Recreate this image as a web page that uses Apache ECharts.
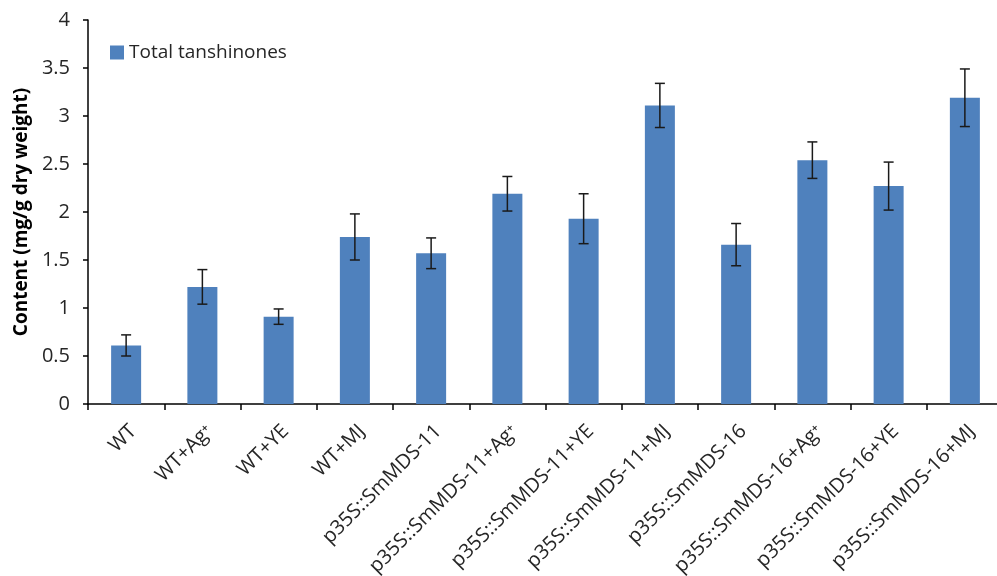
<!DOCTYPE html>
<html>
<head>
<meta charset="utf-8">
<script src="https://cdn.jsdelivr.net/npm/echarts@6/dist/echarts.min.js"></script>
<style>
  html, body { margin: 0; padding: 0; background: #fff; }
  #chart { width: 997px; height: 576px; }
</style>
</head>
<body>
<div id="chart"></div>
<script>
// Sample groups on the x axis
var categories = [
  'WT', 'WT+Ag\u207A', 'WT+YE', 'WT+MJ',
  'p35S::SmMDS-11', 'p35S::SmMDS-11+Ag\u207A', 'p35S::SmMDS-11+YE', 'p35S::SmMDS-11+MJ',
  'p35S::SmMDS-16', 'p35S::SmMDS-16+Ag\u207A', 'p35S::SmMDS-16+YE', 'p35S::SmMDS-16+MJ'
];
// Mean total tanshinone content (mg/g dry weight)
var totalTanshinones = [0.61, 1.22, 0.91, 1.74, 1.57, 2.19, 1.93, 3.11, 1.66, 2.54, 2.27, 3.19];
// Standard deviation for each group
var errors = [0.11, 0.18, 0.08, 0.24, 0.16, 0.18, 0.26, 0.23, 0.22, 0.19, 0.25, 0.30];

var errorData = categories.map(function (c, i) {
  return [i, totalTanshinones[i] - errors[i], totalTanshinones[i] + errors[i]];
});

var chart = echarts.init(document.getElementById('chart'));
var font = '"Open Sans", "Noto Sans", sans-serif';

chart.setOption({
  animation: false,
  backgroundColor: '#ffffff',
  grid: {
    left: 88, right: -6, top: 20, bottom: 172,
    containLabel: false,
    outerBoundsMode: 'none'
  },
  legend: {
    data: ['Total tanshinones'],
    left: 105,
    top: 38,
    itemWidth: 14,
    itemHeight: 14,
    icon: 'rect',
    textStyle: { fontFamily: font, fontSize: 19, color: '#262626' }
  },
  xAxis: {
    type: 'category',
    data: categories,
    axisLine: { lineStyle: { color: '#000', width: 1.5 } },
    axisTick: { show: true, length: 6, lineStyle: { color: '#000', width: 1.5 } },
    axisLabel: {
      rotate: 45,
      interval: 0,
      margin: 17,
      align: 'right',
      verticalAlign: 'top',
      fontFamily: font,
      fontSize: 20,
      color: '#262626'
    }
  },
  yAxis: {
    type: 'value',
    min: 0,
    max: 4,
    interval: 0.5,
    name: 'Content (mg/g dry weight)',
    nameLocation: 'middle',
    nameGap: 54,
    nameTextStyle: { fontFamily: font, fontSize: 19, fontWeight: 'bold', color: '#000' },
    axisLine: { show: true, lineStyle: { color: '#000', width: 1.5 } },
    axisTick: { show: true, length: 5, lineStyle: { color: '#000', width: 1.5 } },
    splitLine: { show: false },
    axisLabel: {
      margin: 18,
      fontFamily: font,
      fontSize: 20,
      color: '#262626'
    }
  },
  series: [
    {
      name: 'Total tanshinones',
      type: 'bar',
      data: totalTanshinones,
      barWidth: 30,
      itemStyle: { color: '#4f81bd' }
    },
    {
      name: 'error',
      type: 'custom',
      data: errorData,
      z: 10,
      renderItem: function (params, api) {
        var x = api.value(0);
        var lo = api.coord([x, api.value(1)]);
        var hi = api.coord([x, api.value(2)]);
        var cap = 5;
        var style = { stroke: '#1a1a1a', lineWidth: 1.5, fill: null };
        return {
          type: 'group',
          children: [
            { type: 'line', shape: { x1: hi[0], y1: hi[1], x2: lo[0], y2: lo[1] }, style: style },
            { type: 'line', shape: { x1: hi[0] - cap, y1: hi[1], x2: hi[0] + cap, y2: hi[1] }, style: style },
            { type: 'line', shape: { x1: lo[0] - cap, y1: lo[1], x2: lo[0] + cap, y2: lo[1] }, style: style }
          ]
        };
      }
    }
  ]
});
</script>
</body>
</html>
